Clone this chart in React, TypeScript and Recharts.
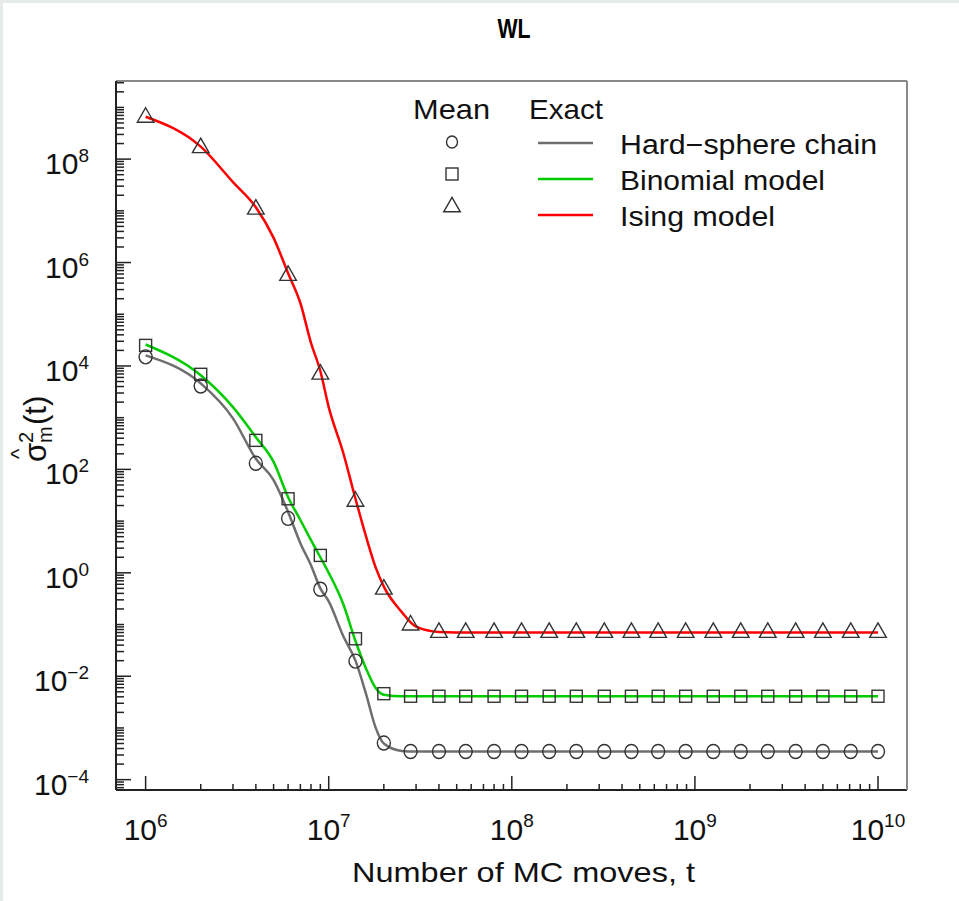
import { ComposedChart, Line, Scatter, XAxis, YAxis } from 'recharts';

// exact curves share one t grid
const exactT = [1e6, 2e6, 3e6, 4e6, 5e6, 6e6, 7e6, 8e6, 9e6, 1e7, 1.2e7, 1.4e7, 1.6e7, 1.8e7, 2e7, 2.5e7, 3e7, 4e7, 6e7, 1e8, 1e9, 1e10];
const hardSphereExact = [1.6e4, 4.6e3, 970, 160, 62, 15, 3.75, 1.4, 0.5, 0.28, 0.06, 0.02, 0.0045, 0.00104, 5.0e-4, 3.6e-4, 3.5e-4, 3.5e-4, 3.5e-4, 3.5e-4, 3.5e-4, 3.5e-4];
const binomialExact = [2.6e4, 6.6e3, 1.6e3, 420, 140, 29, 10.5, 4.3, 2.0, 1.0, 0.25, 0.048, 0.014, 0.006, 0.0044, 0.0041, 0.0041, 0.0041, 0.0041, 0.0041, 0.0041, 0.0041];
const isingExact = [6.6e8, 1.74e8, 3.6e7, 1.17e7, 3.0e6, 6.2e5, 1.65e5, 2.8e4, 8.0e3, 1.6e3, 210, 27, 5.0, 1.3, 0.54, 0.176, 0.091, 0.072, 0.07, 0.07, 0.07, 0.07];

// WL means
const meanT = [1e6, 2e6, 4e6, 6e6, 9e6, 1.4e7, 2e7, 2.8e7, 4e7, 5.6e7, 8e7, 1.13e8, 1.6e8, 2.25e8, 3.2e8, 4.5e8, 6.3e8, 8.9e8, 1.26e9, 1.78e9, 2.5e9, 3.55e9, 5.0e9, 7.1e9, 1.0e10];
const hardSphereMean = [1.5e4, 4.1e3, 131, 11.3, 0.48, 0.0196, 5.1e-4, 3.5e-4, 3.5e-4, 3.5e-4, 3.5e-4, 3.5e-4, 3.5e-4, 3.5e-4, 3.5e-4, 3.5e-4, 3.5e-4, 3.5e-4, 3.5e-4, 3.5e-4, 3.5e-4, 3.5e-4, 3.5e-4, 3.5e-4, 3.5e-4];
const binomialMean = [2.5e4, 6.9e3, 364, 27, 2.17, 0.053, 0.0046, 0.0041, 0.0041, 0.0041, 0.0041, 0.0041, 0.0041, 0.0041, 0.0041, 0.0041, 0.0041, 0.0041, 0.0041, 0.0041, 0.0041, 0.0041, 0.0041, 0.0041, 0.0041];
const isingMean = [6.4e8, 1.65e8, 1.07e7, 5.6e5, 6.9e3, 24, 0.48, 0.097, 0.07, 0.07, 0.07, 0.07, 0.07, 0.07, 0.07, 0.07, 0.07, 0.07, 0.07, 0.07, 0.07, 0.07, 0.07, 0.07, 0.07];

const xTicks = [1e6, 2e6, 3e6, 4e6, 5e6, 6e6, 7e6, 8e6, 9e6, 1e7, 2e7, 3e7, 4e7, 5e7, 6e7, 7e7, 8e7, 9e7, 1e8, 2e8, 3e8, 4e8, 5e8, 6e8, 7e8, 8e8, 9e8, 1e9, 2e9, 3e9, 4e9, 5e9, 6e9, 7e9, 8e9, 9e9, 1e10];
const yTicks = [7e-5, 8e-5, 9e-5,
  1e-4, 2e-4, 3e-4, 4e-4, 5e-4, 6e-4, 7e-4, 8e-4, 9e-4,
  1e-3, 2e-3, 3e-3, 4e-3, 5e-3, 6e-3, 7e-3, 8e-3, 9e-3,
  1e-2, 2e-2, 3e-2, 4e-2, 5e-2, 6e-2, 7e-2, 8e-2, 9e-2,
  0.1, 0.2, 0.3, 0.4, 0.5, 0.6, 0.7, 0.8, 0.9,
  1, 2, 3, 4, 5, 6, 7, 8, 9,
  10, 20, 30, 40, 50, 60, 70, 80, 90,
  100, 200, 300, 400, 500, 600, 700, 800, 900,
  1e3, 2e3, 3e3, 4e3, 5e3, 6e3, 7e3, 8e3, 9e3,
  1e4, 2e4, 3e4, 4e4, 5e4, 6e4, 7e4, 8e4, 9e4,
  1e5, 2e5, 3e5, 4e5, 5e5, 6e5, 7e5, 8e5, 9e5,
  1e6, 2e6, 3e6, 4e6, 5e6, 6e6, 7e6, 8e6, 9e6,
  1e7, 2e7, 3e7, 4e7, 5e7, 6e7, 7e7, 8e7, 9e7,
  1e8, 2e8, 3e8, 4e8, 5e8, 6e8, 7e8, 8e8, 9e8,
  1e9, 2e9, 3e9];
const yLabelExp = [-4, -2, 0, 2, 4, 6, 8];

const legendNames = ['Hard\u2212sphere chain', 'Binomial model', 'Ising model'];
const legendWidths = [257, 205, 155];
const colors = ['#6e6e6e', '#00cc00', '#ff0000'];

const W = 959;
const H = 901;
const FONT = '"Liberation Sans", Arial, Helvetica, sans-serif';
const INK = '#222';
const MARK = '#333';

const xDomain = [6.89e5, 1.44e10];
const yDomain = [6.31e-5, 3.24e9];

const zip = (ts: number[], vs: number[]) => ts.map((t, i) => ({ t, v: vs[i] }));

const exactSeries = [hardSphereExact, binomialExact, isingExact].map((vs) => zip(exactT, vs));
const meanSeries = [hardSphereMean, binomialMean, isingMean].map((vs) => zip(meanT, vs));

const expOf = (v: number) => {
  const l = Math.log10(v);
  const e = Math.round(l);
  return { e, major: Math.abs(l - e) < 1e-6 };
};

const sup = (e: number) => (e < 0 ? '\u2212' + Math.abs(e) : String(e));

function XTick(props: any) {
  const { x, y, payload } = props;
  const { e, major } = expOf(payload.value);
  return (
    <g>
      <line x1={x} x2={x} y1={y} y2={y - (major ? 14 : 6)} stroke={INK} strokeWidth={1.5} />
      {major && (
        <text x={x} y={y + 50} textAnchor="middle" fontFamily={FONT} fontSize={30} fill="#111">
          10<tspan dy={-13} fontSize={19}>{sup(e)}</tspan>
        </text>
      )}
    </g>
  );
}

function YTick(props: any) {
  const { x, y, payload } = props;
  const { e, major } = expOf(payload.value);
  const labelled = major && yLabelExp.includes(e);
  return (
    <g>
      <line x1={x} x2={x + (labelled ? 15 : 8)} y1={y} y2={y} stroke={INK} strokeWidth={1.5} />
      {labelled && (
        <text x={x - 27} y={y + 15} textAnchor="end" fontFamily={FONT} fontSize={30} fill="#111">
          10<tspan dy={-12} fontSize={19}>{sup(e)}</tspan>
        </text>
      )}
    </g>
  );
}

const Circ = (p: any) => (
  <ellipse cx={p.cx} cy={p.cy} rx={p.r ?? 6.5} ry={(p.r ?? 6.5) + 0.5} fill="none" stroke={MARK} strokeWidth={1.4} />
);
const Sq = (p: any) => <rect x={p.cx - 6} y={p.cy - 6} width={12} height={12} fill="none" stroke={MARK} strokeWidth={1.4} />;
const Tri = (p: any) => (
  <path
    d={`M${p.cx},${p.cy - 9.7}L${p.cx + 8.3},${p.cy + 4.8}L${p.cx - 8.3},${p.cy + 4.8}Z`}
    fill="none"
    stroke={MARK}
    strokeWidth={1.4}
  />
);
const shapes = [Circ, Sq, Tri];

function Overlay() {
  return (
    <svg width={W} height={H} style={{ position: 'absolute', left: 0, top: 0, pointerEvents: 'none' }}>
      <text
        transform="translate(514,38) scale(0.76,1)"
        textAnchor="middle"
        fontFamily={FONT}
        fontWeight="bold"
        fontSize={28}
        fill="#000"
      >
        WL
      </text>
      <text
        x={523.5}
        y={882}
        textAnchor="middle"
        fontFamily={FONT}
        fontSize={28}
        textLength={343}
        lengthAdjust="spacingAndGlyphs"
        fill="#111"
      >
        Number of MC moves, t
      </text>
      <g transform="translate(46,462) rotate(-90)" fontFamily={FONT} fill="#111">
        <text x={0} y={0} fontSize={31}>σ</text>
        <text x={3} y={-20} fontSize={22}>^</text>
        <text x={19} y={-13} fontSize={20}>2</text>
        <text x={19} y={6} fontSize={20}>m</text>
        <text x={37} y={0} fontSize={31}>(t)</text>
      </g>
      <g fontFamily={FONT} fill="#111">
        <text x={413} y={119} fontSize={28} textLength={77} lengthAdjust="spacingAndGlyphs">Mean</text>
        <text x={529} y={119} fontSize={28} textLength={74} lengthAdjust="spacingAndGlyphs">Exact</text>
        {legendNames.map((n, i) => (
          <g key={n}>
            {shapes[i]({ cx: 452, cy: [142, 174, 207][i], r: 5.5 })}
            <line x1={538} x2={593} y1={143 + i * 36} y2={143 + i * 36} stroke={colors[i]} strokeWidth={2.5} />
            <text x={620} y={154 + i * 36} fontSize={27} textLength={legendWidths[i]} lengthAdjust="spacingAndGlyphs">
              {n}
            </text>
          </g>
        ))}
      </g>
    </svg>
  );
}

export default function App() {
  return (
    <div style={{ position: 'absolute', left: 0, top: 0, width: W, height: H, background: '#e5ebe9' }}>
      <div style={{ position: 'absolute', left: 3, top: 3, right: 0, bottom: 0, background: '#fff' }} />
      <div style={{ position: 'absolute', left: 0, top: 0 }}>
        <ComposedChart width={W} height={H} margin={{ top: 80, right: 51, bottom: 110, left: 115 }}>
          <XAxis
            dataKey="t"
            type="number"
            scale="log"
            domain={xDomain}
            allowDataOverflow
            ticks={xTicks}
            interval={0}
            tick={<XTick />}
            tickLine={false}
            tickSize={0}
            tickMargin={0}
            height={1}
            axisLine={{ stroke: INK, strokeWidth: 2 }}
          />
          <XAxis
            xAxisId="top"
            orientation="top"
            type="number"
            scale="log"
            domain={xDomain}
            allowDataOverflow
            ticks={[1e6]}
            tick={false}
            tickLine={false}
            height={1}
            axisLine={{ stroke: '#888', strokeWidth: 2 }}
          />
          <YAxis
            dataKey="v"
            type="number"
            scale="log"
            domain={yDomain}
            allowDataOverflow
            ticks={yTicks}
            interval={0}
            tick={<YTick />}
            tickLine={false}
            tickSize={0}
            tickMargin={0}
            width={1}
            axisLine={{ stroke: INK, strokeWidth: 2 }}
          />
          <YAxis
            yAxisId="right"
            orientation="right"
            type="number"
            scale="log"
            domain={yDomain}
            allowDataOverflow
            ticks={[1]}
            tick={false}
            tickLine={false}
            width={1}
            axisLine={{ stroke: '#888', strokeWidth: 2 }}
          />
          {exactSeries.map((d, i) => (
            <Line
              key={'l' + i}
              data={d}
              dataKey="v"
              type="monotone"
              stroke={colors[i]}
              strokeWidth={2.5}
              dot={false}
              isAnimationActive={false}
            />
          ))}
          {meanSeries.map((d, i) => (
            <Scatter key={'s' + i} data={d} dataKey="v" shape={shapes[i]} isAnimationActive={false} />
          ))}
        </ComposedChart>
      </div>
      <Overlay />
    </div>
  );
}
